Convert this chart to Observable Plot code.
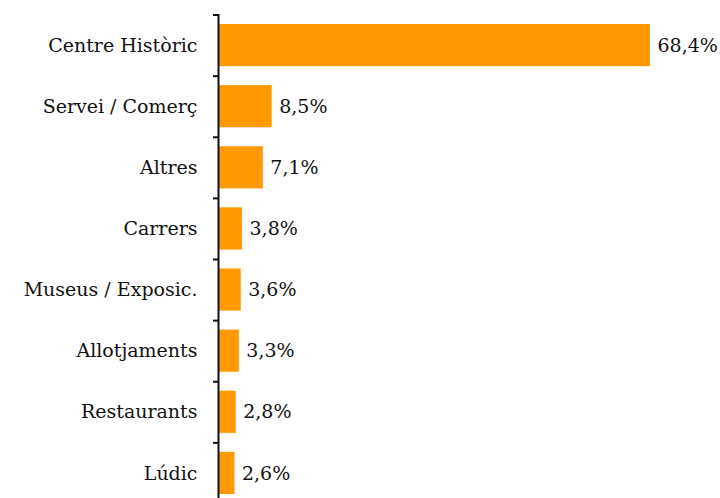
<!DOCTYPE html>
<html><head><meta charset="utf-8">
<script src="https://cdn.jsdelivr.net/npm/d3@7"></script>
<script src="https://cdn.jsdelivr.net/npm/@observablehq/plot@0.6"></script>
<style>body{margin:0;background:#fff}</style>
</head><body><div id="chart"></div>
<script>
const categories = ["Centre Històric","Servei / Comerç","Altres","Carrers","Museus / Exposic.","Allotjaments","Restaurants","Lúdic"];
const values = [68.4, 8.5, 7.1, 3.8, 3.6, 3.3, 2.8, 2.6];
const data = categories.map((c,i)=>({cat:c, v:values[i]}));
const fmt = v => d3.format(".1f")(v).replace(".", ",") + "%";
const pad = 0.31;
const r0 = 24, r1 = 494;
const step = (r1 - r0) / (categories.length - pad);
const chart = Plot.plot({
  width: 720, height: 498,
  marginLeft: 218, marginRight: 0, marginTop: 14, marginBottom: 0,
  style: {fontFamily: "DejaVu Serif", fontSize: "19px", color: "#111", background: "#fff"},
  x: {domain: [0, 68.4], range: [218, 650], axis: null},
  y: {domain: categories, range: [r0, r1], paddingInner: pad, paddingOuter: 0, round: false, label: null},
  marks: [
    Plot.barX(data, {y: "cat", x: "v", fill: "#FF9900"}),
    Plot.text(data, {y: "cat", x: "v", text: d => fmt(d.v), textAnchor: "start", dx: 7, fill: "#111", fontSize: 19}),
    Plot.axisY({tickSize: 0, tickPadding: 21, fontSize: 19}),
    Plot.ruleY(categories, {y: d => d, dy: -step/2, x1: -5/6.316, x2: 0, stroke: "#111", strokeWidth: 2}),
    Plot.ruleX([0], {stroke: "#111", strokeWidth: 2})
  ]
});
document.getElementById("chart").append(chart);
</script></body></html>
